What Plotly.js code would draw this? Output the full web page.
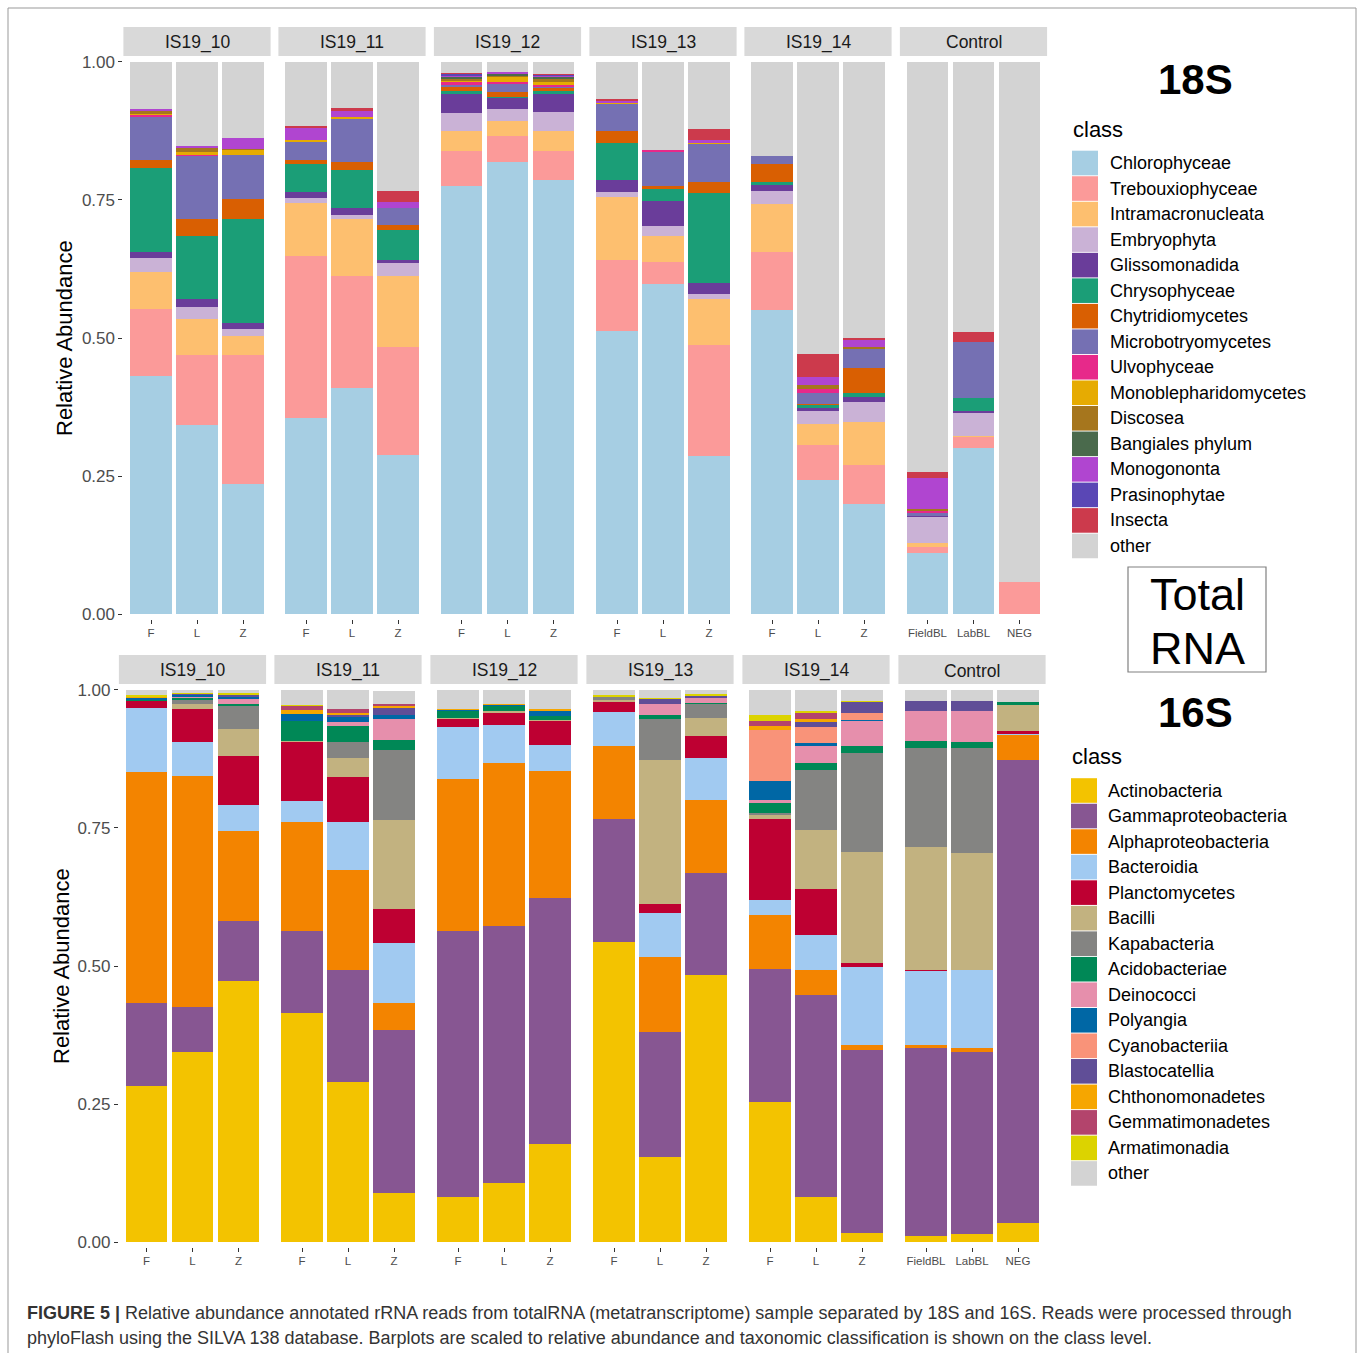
<!DOCTYPE html>
<html>
<head>
<meta charset="utf-8">
<script src="https://cdn.plot.ly/plotly-3.0.1.min.js"></script>
<style>html,body{margin:0;padding:0;background:#fff;}#chart{width:1358px;height:1353px;}</style>
</head>
<body>
<div id="chart"></div>
<script>
// ---------- data ----------
const facets = ['IS19_10', 'IS19_11', 'IS19_12', 'IS19_13', 'IS19_14', 'Control'];
const sampleLabels = [['F', 'L', 'Z'], ['F', 'L', 'Z'], ['F', 'L', 'Z'], ['F', 'L', 'Z'], ['F', 'L', 'Z'], ['FieldBL', 'LabBL', 'NEG']];
const yTickVals = [0, 0.25, 0.5, 0.75, 1];
const yTickText = ['0.00', '0.25', '0.50', '0.75', '1.00'];

// 18S classes (stack order bottom -> top); values: IS19_10 F,L,Z | IS19_11 F,L,Z | IS19_12 F,L,Z | IS19_13 F,L,Z | IS19_14 F,L,Z | Control FieldBL,LabBL,NEG
const classes18 = ['Chlorophyceae', 'Trebouxiophyceae', 'Intramacronucleata', 'Embryophyta', 'Glissomonadida', 'Chrysophyceae', 'Chytridiomycetes', 'Microbotryomycetes', 'Ulvophyceae', 'Monoblepharidomycetes', 'Discosea', 'Bangiales phylum', 'Monogononta', 'Prasinophytae', 'Insecta', 'other'];
const colors18 = ['#a6cee3', '#fb9a99', '#fdbf6f', '#cab2d6', '#6a3d9a', '#1b9e77', '#d95f02', '#7570b3', '#e7298a', '#e6ab02', '#a6761d', '#4a6a4c', '#b045d0', '#5a47b5', '#cc3a4c', '#d3d3d3'];
const chlorophyceae = [0.431, 0.342, 0.235, 0.355, 0.410, 0.288, 0.775, 0.818, 0.787, 0.513, 0.597, 0.286, 0.550, 0.243, 0.200, 0.111, 0.301, 0];
const trebouxiophyceae = [0.121, 0.127, 0.234, 0.294, 0.203, 0.195, 0.063, 0.047, 0.052, 0.129, 0.041, 0.202, 0.105, 0.063, 0.070, 0.011, 0.019, 0.058];
const intramacronucleata = [0.067, 0.066, 0.034, 0.095, 0.102, 0.129, 0.036, 0.028, 0.036, 0.113, 0.046, 0.083, 0.088, 0.039, 0.078, 0.007, 0.003, 0];
const embryophyta = [0.026, 0.022, 0.013, 0.010, 0.007, 0.024, 0.033, 0.021, 0.035, 0.009, 0.019, 0.009, 0.024, 0.023, 0.036, 0.046, 0.042, 0];
const glissomonadida = [0.010, 0.014, 0.011, 0.011, 0.014, 0.006, 0.035, 0.020, 0.032, 0.022, 0.046, 0.019, 0.010, 0.006, 0.010, 0.002, 0.003, 0];
const chrysophyceae = [0.153, 0.113, 0.189, 0.051, 0.068, 0.054, 0.005, 0.003, 0.005, 0.068, 0.021, 0.163, 0.005, 0.004, 0.007, 0, 0.023, 0];
const chytridiomycetes = [0.015, 0.032, 0.036, 0.007, 0.014, 0.009, 0.007, 0.009, 0.005, 0.020, 0.005, 0.021, 0.034, 0.003, 0.044, 0, 0, 0];
const microbotryomycetes = [0.078, 0.113, 0.080, 0.032, 0.078, 0.030, 0.004, 0.014, 0.003, 0.050, 0.061, 0.068, 0.013, 0.020, 0.035, 0.006, 0.101, 0];
const ulvophyceae = [0.002, 0.002, 0, 0, 0, 0, 0.005, 0.004, 0.004, 0, 0.005, 0, 0, 0.006, 0, 0.003, 0, 0];
const monoblepharidomycetes = [0.003, 0.006, 0.009, 0.003, 0.005, 0.001, 0.003, 0.008, 0.005, 0.002, 0, 0.003, 0, 0, 0, 0, 0, 0];
const discosea = [0.006, 0.007, 0.001, 0, 0, 0, 0.003, 0.003, 0.005, 0, 0, 0, 0, 0.007, 0.004, 0.004, 0, 0];
const bangiales = [0, 0, 0, 0, 0, 0, 0.003, 0.003, 0.003, 0, 0, 0, 0, 0, 0, 0, 0, 0];
const monogononta = [0.003, 0.004, 0.020, 0.023, 0.011, 0.010, 0.003, 0.004, 0.003, 0.004, 0, 0.004, 0, 0.015, 0.013, 0.057, 0, 0];
const prasinophytae = [0, 0, 0, 0, 0, 0, 0.003, 0, 0.002, 0, 0, 0, 0, 0, 0, 0, 0, 0];
const insecta = [0, 0, 0, 0.003, 0.004, 0.021, 0.002, 0, 0.001, 0.003, 0, 0.021, 0, 0.042, 0.003, 0.011, 0.019, 0];
const other18 = [0.085, 0.152, 0.138, 0.116, 0.084, 0.233, 0.020, 0.018, 0.022, 0.067, 0.159, 0.121, 0.171, 0.529, 0.500, 0.742, 0.489, 0.942];
const values18 = [chlorophyceae, trebouxiophyceae, intramacronucleata, embryophyta, glissomonadida, chrysophyceae, chytridiomycetes, microbotryomycetes, ulvophyceae, monoblepharidomycetes, discosea, bangiales, monogononta, prasinophytae, insecta, other18];

// 16S classes
const classes16 = ['Actinobacteria', 'Gammaproteobacteria', 'Alphaproteobacteria', 'Bacteroidia', 'Planctomycetes', 'Bacilli', 'Kapabacteria', 'Acidobacteriae', 'Deinococci', 'Polyangia', 'Cyanobacteriia', 'Blastocatellia', 'Chthonomonadetes', 'Gemmatimonadetes', 'Armatimonadia', 'other'];
const colors16 = ['#f3c300', '#875692', '#f38400', '#a1caf1', '#be0032', '#c2b280', '#848482', '#008856', '#e68fac', '#0067a5', '#f99379', '#604e97', '#f6a600', '#b3446c', '#dcd300', '#d3d3d3'];
const actinobacteria = [0.283, 0.344, 0.472, 0.414, 0.290, 0.088, 0.081, 0.107, 0.178, 0.544, 0.155, 0.484, 0.254, 0.082, 0.017, 0.011, 0.014, 0.034];
const gammaproteobacteria = [0.150, 0.081, 0.109, 0.149, 0.202, 0.297, 0.482, 0.465, 0.445, 0.223, 0.226, 0.184, 0.241, 0.366, 0.331, 0.341, 0.330, 0.839];
const alphaproteobacteria = [0.418, 0.420, 0.163, 0.197, 0.182, 0.048, 0.275, 0.296, 0.231, 0.132, 0.136, 0.132, 0.098, 0.044, 0.009, 0.005, 0.007, 0.045];
const bacteroidia = [0.116, 0.061, 0.047, 0.039, 0.087, 0.108, 0.094, 0.068, 0.046, 0.061, 0.079, 0.077, 0.027, 0.064, 0.142, 0.134, 0.141, 0.003];
const planctomycetes = [0.013, 0.059, 0.090, 0.107, 0.082, 0.063, 0.016, 0.023, 0.043, 0.019, 0.017, 0.040, 0.146, 0.083, 0.006, 0.001, 0, 0.005];
const bacilli = [0, 0.009, 0.049, 0.001, 0.033, 0.160, 0.001, 0.002, 0.002, 0.002, 0.260, 0.033, 0.007, 0.108, 0.201, 0.223, 0.213, 0.046];
const kapabacteria = [0, 0.008, 0.040, 0, 0.030, 0.128, 0, 0, 0, 0.006, 0.075, 0.024, 0.005, 0.108, 0.179, 0.179, 0.189, 0];
const acidobacteriae = [0.002, 0.003, 0.004, 0.037, 0.029, 0.018, 0.012, 0.009, 0.007, 0, 0.007, 0.003, 0.018, 0.013, 0.014, 0.014, 0.011, 0.007];
const deinococci = [0, 0.002, 0.009, 0, 0.007, 0.038, 0, 0, 0, 0, 0.019, 0.009, 0.005, 0.030, 0.045, 0.054, 0.056, 0];
const polyangia = [0.003, 0.003, 0.004, 0.012, 0.009, 0.006, 0.002, 0.002, 0.009, 0, 0, 0, 0.034, 0.005, 0.002, 0, 0, 0];
const cyanobacteriia = [0, 0, 0, 0, 0, 0, 0, 0, 0, 0, 0, 0, 0.093, 0.030, 0.013, 0, 0, 0];
const blastocatellia = [0, 0.002, 0.004, 0, 0.003, 0.014, 0, 0, 0, 0, 0.009, 0.003, 0, 0.009, 0.019, 0.018, 0.019, 0];
const chthonomonadetes = [0.002, 0, 0, 0.007, 0.005, 0.003, 0.003, 0.003, 0.004, 0, 0, 0, 0.007, 0.005, 0.001, 0, 0, 0];
const gemmatimonadetes = [0, 0, 0, 0.007, 0.007, 0.003, 0, 0, 0, 0, 0, 0, 0.009, 0.011, 0, 0, 0, 0];
const armatimonadia = [0.003, 0.002, 0.003, 0.003, 0, 0, 0, 0, 0, 0.004, 0.002, 0.003, 0.011, 0.003, 0.001, 0, 0, 0];
const other16 = [0.010, 0.006, 0.006, 0.027, 0.034, 0.024, 0.034, 0.025, 0.035, 0.009, 0.015, 0.008, 0.045, 0.039, 0.020, 0.020, 0.020, 0.021];
const values16 = [actinobacteria, gammaproteobacteria, alphaproteobacteria, bacteroidia, planctomycetes, bacilli, kapabacteria, acidobacteriae, deinococci, polyangia, cyanobacteriia, blastocatellia, chthonomonadetes, gemmatimonadetes, armatimonadia, other16];

// ---------- layout helpers ----------
const W = 1358, H = 1353;
const px = v => v / W;
const py = v => 1 - v / H;
const FONT = '"Liberation Sans", Arial, sans-serif';

const rows = [
  {classes: classes18, colors: colors18, values: values18, centers: [197, 352, 507.5, 663, 818, 973.5], top: 57.5, bottom: 618.5, strip: [27, 56], titleX: 65, yname: 'y', ylay: 'yaxis', axOffset: 0},
  {classes: classes16, colors: colors16, values: values16, centers: [192.5, 348, 504, 660, 816, 972], top: 685.5, bottom: 1246.5, strip: [655, 684], titleX: 61, yname: 'y2', ylay: 'yaxis2', axOffset: 6}
];
const halfW = 73.6;

const traces = [];
const layout = {
  width: W, height: H,
  margin: {l: 0, r: 0, t: 0, b: 0},
  paper_bgcolor: '#ffffff', plot_bgcolor: 'rgba(0,0,0,0)',
  barmode: 'stack', bargap: 0,
  showlegend: false,
  font: {family: FONT, color: '#1a1a1a'},
  shapes: [], annotations: []
};

rows.forEach((row, r) => {
  layout[row.ylay] = {
    domain: [py(row.bottom), py(row.top)],
    range: [-0.008, 1.008], fixedrange: true,
    tickvals: yTickVals, ticktext: yTickText,
    ticks: 'outside', ticklen: 4, tickwidth: 1, tickcolor: '#333333',
    tickfont: {family: FONT, size: 17, color: '#4d4d4d'},
    showgrid: false, zeroline: false, showline: false,
    anchor: 'x' + (row.axOffset + 1 === 1 ? '' : (row.axOffset + 1))
  };
  facets.forEach((fac, f) => {
    const axNum = row.axOffset + f + 1;
    const xname = 'x' + (axNum === 1 ? '' : axNum);
    const xlay = 'xaxis' + (axNum === 1 ? '' : axNum);
    const c = row.centers[f];
    layout[xlay] = {
      domain: [px(c - halfW), px(c + halfW)],
      range: [-0.6, 2.6], fixedrange: true,
      tickvals: [0, 1, 2], ticktext: sampleLabels[f],
      ticks: 'outside', ticklen: 4, tickwidth: 1, tickcolor: '#333333',
      tickfont: {family: FONT, size: 11.5, color: '#4d4d4d'},
      showgrid: false, zeroline: false, showline: false,
      anchor: row.yname
    };
    row.classes.forEach((cls, k) => {
      traces.push({
        type: 'bar', name: cls, x: [0, 1, 2],
        y: row.values[k].slice(3 * f, 3 * f + 3),
        width: 0.9, xaxis: xname, yaxis: row.yname,
        marker: {color: row.colors[k], line: {width: 0}},
        hovertemplate: fac + ' %{x}<br>' + cls + ': %{y}<extra></extra>'
      });
    });
    // facet strip
    layout.shapes.push({type: 'rect', xref: 'paper', yref: 'paper',
      x0: px(c - halfW), x1: px(c + halfW), y0: py(row.strip[1]), y1: py(row.strip[0]),
      fillcolor: '#d9d9d9', line: {width: 0}, layer: 'below'});
    layout.annotations.push({xref: 'paper', yref: 'paper', x: px(c), y: py((row.strip[0] + row.strip[1]) / 2 + 1),
      text: fac, showarrow: false, xanchor: 'center', yanchor: 'middle',
      font: {family: FONT, size: 17.5, color: '#1a1a1a'}});
  });
  // y-axis title
  layout.annotations.push({xref: 'paper', yref: 'paper', x: px(row.titleX), y: py((row.top + row.bottom) / 2),
    text: 'Relative Abundance', textangle: -90, showarrow: false, xanchor: 'center', yanchor: 'middle',
    font: {family: FONT, size: 22, color: '#000000'}});
});

// ---------- legends (manual, built from class/colour arrays) ----------
function addLegend(classes, colors, titleY, firstY, swX, txtX) {
  layout.annotations.push({xref: 'paper', yref: 'paper', x: px(swX - 1), y: py(titleY), text: 'class',
    showarrow: false, xanchor: 'left', yanchor: 'middle', font: {family: FONT, size: 22, color: '#000000'}});
  const step = 25.53;
  classes.forEach((cls, k) => {
    const cy = firstY + k * step;
    layout.shapes.push({type: 'rect', xref: 'paper', yref: 'paper',
      x0: px(swX), x1: px(swX + 26), y0: py(cy + 12.3), y1: py(cy - 12.3),
      fillcolor: colors[k], line: {width: 0}});
    layout.annotations.push({xref: 'paper', yref: 'paper', x: px(txtX), y: py(cy), text: cls,
      showarrow: false, xanchor: 'left', yanchor: 'middle', font: {family: FONT, size: 18, color: '#000000'}});
  });
}
addLegend(classes18, colors18, 130, 163, 1072, 1108);
addLegend(classes16, colors16, 757, 790.5, 1071, 1106);

// titles
layout.annotations.push({xref: 'paper', yref: 'paper', x: px(1195), y: py(80), text: '<b>18S</b>',
  showarrow: false, xanchor: 'center', yanchor: 'middle', font: {family: FONT, size: 42, color: '#000000'}});
layout.annotations.push({xref: 'paper', yref: 'paper', x: px(1195), y: py(712), text: '<b>16S</b>',
  showarrow: false, xanchor: 'center', yanchor: 'middle', font: {family: FONT, size: 42, color: '#000000'}});
layout.shapes.push({type: 'rect', xref: 'paper', yref: 'paper', x0: px(1128), x1: px(1266), y0: py(672), y1: py(567),
  line: {color: '#808080', width: 1.2}, fillcolor: 'rgba(0,0,0,0)'});
layout.annotations.push({xref: 'paper', yref: 'paper', x: px(1197), y: py(595), text: 'Total',
  showarrow: false, xanchor: 'center', yanchor: 'middle', font: {family: FONT, size: 45, color: '#000000'}});
layout.annotations.push({xref: 'paper', yref: 'paper', x: px(1197), y: py(648), text: 'RNA',
  showarrow: false, xanchor: 'center', yanchor: 'middle', font: {family: FONT, size: 45, color: '#000000'}});

// frame
layout.shapes.push({type: 'rect', xref: 'paper', yref: 'paper', x0: px(8), x1: px(1356), y0: py(1370), y1: py(8),
  line: {color: '#999999', width: 1}, fillcolor: 'rgba(0,0,0,0)'});

// caption
layout.annotations.push({xref: 'paper', yref: 'paper', x: px(25), y: py(1313),
  text: '<b>FIGURE 5 |</b> Relative abundance annotated rRNA reads from totalRNA (metatranscriptome) sample separated by 18S and 16S. Reads were processed through',
  showarrow: false, xanchor: 'left', yanchor: 'middle', font: {family: FONT, size: 18, color: '#333333'}});
layout.annotations.push({xref: 'paper', yref: 'paper', x: px(25), y: py(1338),
  text: 'phyloFlash using the SILVA 138 database. Barplots are scaled to relative abundance and taxonomic classification is shown on the class level.',
  showarrow: false, xanchor: 'left', yanchor: 'middle', font: {family: FONT, size: 18, color: '#333333'}});

Plotly.newPlot('chart', traces, layout, {staticPlot: true, displayModeBar: false});
</script>
</body>
</html>
